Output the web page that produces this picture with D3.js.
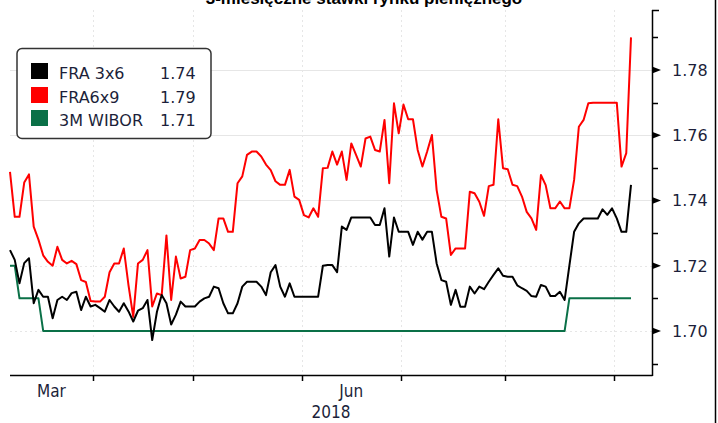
<!DOCTYPE html>
<html>
<head>
<meta charset="utf-8">
<script src="https://cdn.jsdelivr.net/npm/d3@7"></script>
<style>
  html, body { margin: 0; padding: 0; background: #fff; }
  svg { display: block; }
</style>
</head>
<body>
<div id="chart"></div>
<script>
// Trading-day series, 7 Mar 2018 – 6 Sep 2018
const startDate = "2018-03-07";
const endDate = "2018-09-06";

const seriesNames = ["FRA 3x6", "FRA6x9", "3M WIBOR"];
const seriesColors = ["#000000", "#ff0000", "#0a7047"];
const lastLabels = ["1.74", "1.79", "1.71"];

const fra3x6 = [
  1.7248, 1.7218, 1.7146, 1.7208, 1.7223, 1.7085, 1.7126, 1.7105, 1.7105, 1.7039,
  1.7095, 1.7105, 1.7095, 1.7116, 1.7120, 1.7064, 1.7105, 1.7075, 1.7080, 1.7070,
  1.7059, 1.7095, 1.7075, 1.7059, 1.7085, 1.7060, 1.7029, 1.7062, 1.7070, 1.7095,
  1.6972, 1.7059, 1.7110, 1.7085, 1.7020, 1.7050, 1.7090, 1.7075, 1.7075, 1.7075,
  1.7090, 1.7100, 1.7105, 1.7136, 1.7131, 1.7085, 1.7054, 1.7054, 1.7085, 1.7136,
  1.7151, 1.7151, 1.7151, 1.7136, 1.7110, 1.7180, 1.7202, 1.7136, 1.7105, 1.7146,
  1.7105, 1.7105, 1.7105, 1.7105, 1.7105, 1.7105, 1.7200, 1.7202, 1.7202, 1.7180,
  1.7320, 1.7310, 1.7348, 1.7348, 1.7348, 1.7348, 1.7348, 1.7325, 1.7325, 1.7376,
  1.7228, 1.7348, 1.7304, 1.7304, 1.7304, 1.7264, 1.7304, 1.7280, 1.7304, 1.7304,
  1.7207, 1.7156, 1.7151, 1.7080, 1.7126, 1.7074, 1.7074, 1.7136, 1.7115, 1.7136,
  1.7128, 1.7151, 1.7172, 1.7192, 1.7169, 1.7166, 1.7166, 1.7140, 1.7131, 1.7123,
  1.7107, 1.7105, 1.7141, 1.7136, 1.7107, 1.7107, 1.7120, 1.7095, 1.7200, 1.7304,
  1.7330, 1.7345, 1.7345, 1.7345, 1.7345, 1.7373, 1.7356, 1.7376, 1.7345, 1.7304,
  1.7304, 1.7448
];

const fra6x9 = [
  1.7488, 1.7350, 1.7350, 1.7455, 1.7480, 1.7320, 1.7280, 1.7232, 1.7212, 1.7200,
  1.7258, 1.7218, 1.7207, 1.7215, 1.7205, 1.7156, 1.7150, 1.7092, 1.7090, 1.7090,
  1.7105, 1.7180, 1.7207, 1.7207, 1.7253, 1.7140, 1.7043, 1.7207, 1.7218, 1.7248,
  1.7075, 1.7115, 1.7110, 1.7293, 1.7095, 1.7228, 1.7161, 1.7166, 1.7248, 1.7253,
  1.7279, 1.7279, 1.7268, 1.7248, 1.7345, 1.7345, 1.7304, 1.7304, 1.7453, 1.7474,
  1.7540, 1.7550, 1.7550, 1.7535, 1.7510, 1.7493, 1.7459, 1.7448, 1.7448, 1.7494,
  1.7412, 1.7402, 1.7355, 1.7348, 1.7376, 1.7350, 1.7499, 1.7500, 1.7550, 1.7510,
  1.7550, 1.7463, 1.7575, 1.7540, 1.7504, 1.7590, 1.7596, 1.7555, 1.7550, 1.7647,
  1.7453, 1.7698, 1.7606, 1.7694, 1.7649, 1.7649, 1.7555, 1.7504, 1.7550, 1.7601,
  1.7432, 1.7350, 1.7345, 1.7233, 1.7253, 1.7253, 1.7253, 1.7427, 1.7422, 1.7396,
  1.7353, 1.7444, 1.7448, 1.7649, 1.7499, 1.7496, 1.7448, 1.7444, 1.7412, 1.7365,
  1.7345, 1.7310, 1.7478, 1.7447, 1.7376, 1.7376, 1.7397, 1.7376, 1.7376, 1.7463,
  1.7626, 1.7647, 1.7698, 1.7700, 1.7700, 1.7700, 1.7700, 1.7700, 1.7700, 1.7504,
  1.7545, 1.7900
];

const wibor3m = [
  1.72, 1.72, 1.71, 1.71, 1.71, 1.71, 1.71, 1.70, 1.70, 1.70,
  1.70, 1.70, 1.70, 1.70, 1.70, 1.70, 1.70, 1.70, 1.70, 1.70,
  1.70, 1.70, 1.70, 1.70, 1.70, 1.70, 1.70, 1.70, 1.70, 1.70,
  1.70, 1.70, 1.70, 1.70, 1.70, 1.70, 1.70, 1.70, 1.70, 1.70,
  1.70, 1.70, 1.70, 1.70, 1.70, 1.70, 1.70, 1.70, 1.70, 1.70,
  1.70, 1.70, 1.70, 1.70, 1.70, 1.70, 1.70, 1.70, 1.70, 1.70,
  1.70, 1.70, 1.70, 1.70, 1.70, 1.70, 1.70, 1.70, 1.70, 1.70,
  1.70, 1.70, 1.70, 1.70, 1.70, 1.70, 1.70, 1.70, 1.70, 1.70,
  1.70, 1.70, 1.70, 1.70, 1.70, 1.70, 1.70, 1.70, 1.70, 1.70,
  1.70, 1.70, 1.70, 1.70, 1.70, 1.70, 1.70, 1.70, 1.70, 1.70,
  1.70, 1.70, 1.70, 1.70, 1.70, 1.70, 1.70, 1.70, 1.70, 1.70,
  1.70, 1.70, 1.70, 1.70, 1.70, 1.70, 1.70, 1.70, 1.71, 1.71,
  1.71, 1.71, 1.71, 1.71, 1.71, 1.71, 1.71, 1.71, 1.71, 1.71,
  1.71, 1.71
];

const yMajorTicks = [1.70, 1.72, 1.74, 1.76, 1.78];
const yMinorTicks = [1.69, 1.71, 1.73, 1.75, 1.77, 1.79];
const monthLabels = { 2: "Mar", 5: "Jun" };
const yearLabel = "2018";
const title = "3-miesięczne stawki rynku pieniężnego";

// ---- layout ----
const W = 718, H = 423;
const plotLeft = 10, plotRight = 652, plotTop = 10, plotBottom = 375;
const textColor = "#1c1f3a";
const font = "'DejaVu Sans', Verdana, sans-serif";

// weekday calendar for the x axis
const dates = d3.utcDays(new Date(startDate + "T00:00:00Z"), new Date(endDate + "T12:00:00Z"))
  .filter(d => d.getUTCDay() !== 0 && d.getUTCDay() !== 6);

const x = d3.scaleLinear().domain([0, dates.length - 1]).range([plotLeft, 631]);
const y = d3.scaleLinear().domain([1.6865, 1.7984]).range([plotBottom, plotTop]);

const svg = d3.select("#chart").append("svg")
  .attr("width", W).attr("height", H)
  .style("background", "#fff");

// title, partly above the visible area
svg.append("text")
  .attr("x", 364).attr("y", 4)
  .attr("text-anchor", "middle")
  .style("font-family", "'Liberation Sans', Arial, sans-serif")
  .style("font-weight", "bold")
  .style("font-size", "17px")
  .attr("fill", "#000")
  .text(title);

// month boundaries (between last day of one month and first of next)
const monthStarts = [];
dates.forEach((d, i) => {
  if (i > 0 && d.getUTCMonth() !== dates[i - 1].getUTCMonth()) monthStarts.push({ i: i - 0.5, m: d.getUTCMonth() });
});

// grid
const grid = svg.append("g");
grid.selectAll("line.h").data(yMajorTicks).enter().append("line")
  .attr("x1", plotLeft).attr("x2", plotRight)
  .attr("y1", d => Math.round(y(d)) + 0.5).attr("y2", d => Math.round(y(d)) + 0.5)
  .attr("stroke", "#e6e6e6").attr("stroke-width", 1)
  .attr("stroke-dasharray", d => d < 1.735 ? "2,3" : null);
grid.selectAll("line.v").data(monthStarts).enter().append("line")
  .attr("x1", d => Math.round(x(d.i)) + 0.5).attr("x2", d => Math.round(x(d.i)) + 0.5)
  .attr("y1", plotTop).attr("y2", plotBottom)
  .attr("stroke", "#e6e6e6").attr("stroke-width", 1)
  .attr("stroke-dasharray", "2,3");

// series lines
const line = d3.line().x((d, i) => x(i)).y(d => y(d)).curve(d3.curveLinear);
const seriesData = [wibor3m, fra6x9, fra3x6];
const seriesCol = [seriesColors[2], seriesColors[1], seriesColors[0]];
seriesData.forEach((s, k) => {
  svg.append("path")
    .datum(s)
    .attr("d", line)
    .attr("fill", "none")
    .attr("stroke", seriesCol[k])
    .attr("stroke-width", 2)
    .attr("stroke-linejoin", "round");
});

// x axis
const axisG = svg.append("g");
axisG.append("line")
  .attr("x1", plotLeft).attr("x2", plotRight + 0.5)
  .attr("y1", plotBottom + 0.5).attr("y2", plotBottom + 0.5)
  .attr("stroke", "#000").attr("stroke-width", 1.5);
axisG.selectAll("line.xt").data(monthStarts).enter().append("line")
  .attr("x1", d => Math.round(x(d.i)) + 0.5).attr("x2", d => Math.round(x(d.i)) + 0.5)
  .attr("y1", plotBottom).attr("y2", plotBottom + 6)
  .attr("stroke", "#000").attr("stroke-width", 1.5);

// month labels centred on the visible part of each month
const bounds = [plotLeft, ...monthStarts.map(d => x(d.i)), plotRight];
const months = [dates[0].getUTCMonth(), ...monthStarts.map(d => d.m)];
months.forEach((m, k) => {
  if (!(m in monthLabels)) return;
  const cx = (bounds[k] + Math.min(bounds[k + 1], plotRight)) / 2;
  axisG.append("text")
    .attr("x", cx).attr("y", 397)
    .attr("text-anchor", "middle")
    .style("font-family", "'DejaVu Sans Condensed', " + font)
    .style("font-stretch", "condensed")
    .style("font-size", "17px")
    .attr("fill", textColor)
    .text(monthLabels[m]);
});
axisG.append("text")
  .attr("x", (plotLeft + plotRight) / 2).attr("y", 418)
  .attr("text-anchor", "middle")
  .style("font-family", "'DejaVu Sans Condensed', " + font)
  .style("font-stretch", "condensed")
  .style("font-size", "17px")
  .attr("fill", textColor)
  .text(yearLabel);

// right value axis
axisG.append("line")
  .attr("x1", plotRight + 0.5).attr("x2", plotRight + 0.5)
  .attr("y1", plotTop).attr("y2", plotBottom + 1)
  .attr("stroke", "#000").attr("stroke-width", 1.5);
axisG.append("line")
  .attr("x1", plotRight).attr("x2", plotRight + 7)
  .attr("y1", plotTop + 0.5).attr("y2", plotTop + 0.5)
  .attr("stroke", "#000").attr("stroke-width", 1.5);
axisG.selectAll("line.minor").data(yMinorTicks).enter().append("line")
  .attr("x1", plotRight).attr("x2", plotRight + 6)
  .attr("y1", d => Math.round(y(d)) + 0.5).attr("y2", d => Math.round(y(d)) + 0.5)
  .attr("stroke", "#000").attr("stroke-width", 1.5);
axisG.selectAll("path.major").data(yMajorTicks).enter().append("path")
  .attr("d", d => {
    const yy = y(d);
    return `M${plotRight},${yy - 3.5}L${plotRight + 9},${yy}L${plotRight},${yy + 3.5}Z`;
  })
  .attr("fill", "#000");
axisG.selectAll("text.yl").data(yMajorTicks).enter().append("text")
  .attr("x", 672).attr("y", d => y(d) + 5.8)
  .style("font-family", font)
  .style("font-size", "16px")
  .attr("fill", textColor)
  .text(d => d3.format(".2f")(d));

// frame line on the far right
svg.append("line")
  .attr("x1", 715.5).attr("x2", 715.5)
  .attr("y1", 0).attr("y2", H)
  .attr("stroke", "#000").attr("stroke-width", 1.5);

// legend
const lg = svg.append("g");
lg.append("rect")
  .attr("x", 17).attr("y", 48.5).attr("width", 194).attr("height", 90)
  .attr("rx", 5).attr("ry", 5)
  .attr("fill", "#fff").attr("stroke", "#333").attr("stroke-width", 1.5);
const rowY = [71, 95, 118];
seriesNames.forEach((n, k) => {
  lg.append("rect")
    .attr("x", 31).attr("y", rowY[k] - 8).attr("width", 17).attr("height", 16)
    .attr("fill", seriesColors[k]);
  lg.append("text")
    .attr("x", 59).attr("y", rowY[k] + 7.5)
    .style("font-family", font).style("font-size", "16px")
    .attr("fill", textColor).text(n);
  lg.append("text")
    .attr("x", 160).attr("y", rowY[k] + 7.5)
    .style("font-family", font).style("font-size", "16px")
    .attr("fill", textColor).text(lastLabels[k]);
});
</script>
</body>
</html>
